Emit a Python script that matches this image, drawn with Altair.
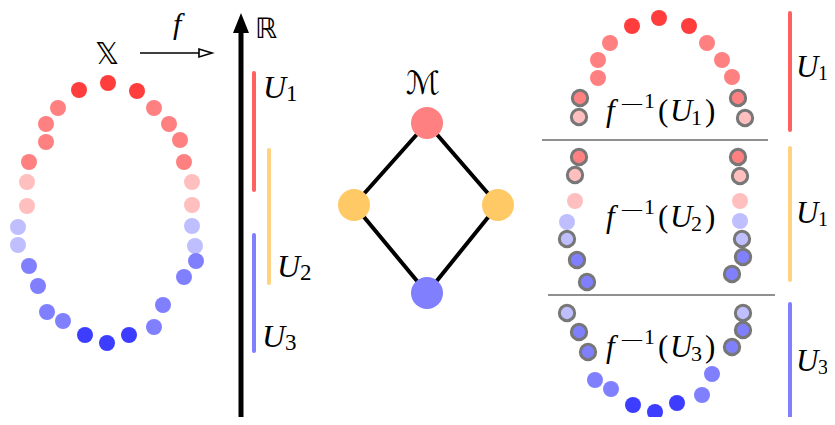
import altair as alt
import pandas as pd

# ---------------- data (pixel coordinates) ----------------
levels = ["r3", "r2", "r1", "b1", "b2", "b3"]
level_colors = ["#ff3d3d", "#ff8080", "#ffbfbf", "#bfbfff", "#8080ff", "#3d3dff"]

# left ring X
left_x = [108, 79, 137, 58, 154, 46, 169, 46, 180, 29, 184, 27, 192, 27, 192,
          18, 192, 18, 195, 29, 196, 38, 184, 47, 163, 63, 154, 85, 107, 129]
left_y = [83, 90, 91, 108, 108, 124, 124, 142, 140, 162, 162, 182, 182, 206, 205,
          227, 226, 245, 246, 266, 261, 286, 277, 312, 305, 321, 327, 335, 343, 335]
left_lv = ["r3"] * 3 + ["r2"] * 8 + ["r1"] * 4 + ["b1"] * 4 + ["b2"] * 8 + ["b3"] * 3

# right pulled-back covering
right_x = [659, 632, 689, 610, 707, 598, 722, 598, 732, 580, 738, 579, 745,
           579, 738, 575, 740, 575, 740, 567, 740, 567, 742, 577, 743, 587, 732,
           567, 743, 579, 743, 588, 732, 595, 712, 611, 702, 633, 677, 655]
right_y = [18, 26, 26, 43, 43, 60, 60, 78, 77, 98, 98, 117, 118,
           157, 157, 175, 176, 201, 201, 222, 221, 239, 239, 260, 257, 282, 274,
           313, 313, 332, 330, 352, 347, 380, 374, 389, 395, 405, 403, 412]
right_lv = (["r3"] * 3 + ["r2"] * 8 + ["r1"] * 2 +
            ["r2"] * 2 + ["r1"] * 4 + ["b1"] * 4 + ["b2"] * 4 +
            ["b1"] * 2 + ["b2"] * 8 + ["b3"] * 3)
right_ring = ([False] * 9 + [True] * 4 +
              [True] * 4 + [False] * 4 + [True] * 6 +
              [True] * 6 + [False] * 7)

# Mapper graph M
node_x = [427, 354, 498, 427]
node_y = [123, 205, 205, 293]
node_c = ["#ff8080", "#ffc966", "#ffc966", "#8080ff"]
edge_from = [0, 0, 1, 2]
edge_to = [1, 2, 3, 3]

# intervals U1, U2, U3 on R and beside the right panel
bar_x = [254, 269, 254, 790, 790, 790]
bar_y1 = [73, 150, 235, 13, 148, 304]
bar_y2 = [190, 283, 351, 130, 280, 418]
bar_c = ["#ff6060", "#ffd27f", "#7f7fff", "#ff6060", "#ffd27f", "#7f7fff"]

# separators of the right panel
sep_x1 = [542, 548]
sep_x2 = [768, 775]
sep_y = [140, 295]

# ---------------- frames ----------------
pts_left = pd.DataFrame({"x": left_x, "y": left_y, "lv": left_lv})
pts_right = pd.DataFrame({"x": right_x, "y": right_y, "lv": right_lv, "ring": right_ring})
nodes = pd.DataFrame({"x": node_x, "y": node_y, "c": node_c})
edges = pd.DataFrame({
    "x": [node_x[i] for i in edge_from], "y": [node_y[i] for i in edge_from],
    "x2": [node_x[i] for i in edge_to], "y2": [node_y[i] for i in edge_to]})
bars = pd.DataFrame({"x": bar_x, "y": bar_y1, "y2": bar_y2, "c": bar_c})
seps = pd.DataFrame({"x": sep_x1, "x2": sep_x2, "y": sep_y})

xs = alt.Scale(domain=[8, 827], nice=False, zero=False)
ys = alt.Scale(domain=[417, 8], nice=False, zero=False)
X = lambda f="x": alt.X(f"{f}:Q", scale=xs, axis=None)
Y = lambda f="y": alt.Y(f"{f}:Q", scale=ys, axis=None)
cscale = alt.Scale(domain=levels, range=level_colors)

ring_l = alt.Chart(pts_left).mark_circle(size=256, opacity=1).encode(
    x=X(), y=Y(), color=alt.Color("lv:N", scale=cscale, legend=None))
ring_r_plain = alt.Chart(pts_right).transform_filter("!datum.ring").mark_circle(
    size=256, opacity=1).encode(x=X(), y=Y(), color=alt.Color("lv:N", scale=cscale, legend=None))
ring_r_ring = alt.Chart(pts_right).transform_filter("datum.ring").mark_point(
    shape="circle", size=235, filled=True, opacity=1, stroke="#777777",
    strokeWidth=3, strokeOpacity=1).encode(
    x=X(), y=Y(), fill=alt.Fill("lv:N", scale=cscale, legend=None))

edge_l = alt.Chart(edges).mark_rule(strokeWidth=4, color="black", strokeCap="round").encode(
    x=X(), y=Y(), x2="x2:Q", y2="y2:Q")
node_l = alt.Chart(nodes).mark_circle(size=1024, opacity=1).encode(
    x=X(), y=Y(), color=alt.Color("c:N", scale=None))

bar_l = alt.Chart(bars).mark_rule(strokeWidth=4, strokeCap="round").encode(
    x=X(), y=Y(), y2="y2:Q", color=alt.Color("c:N", scale=None))
sep_l = alt.Chart(seps).mark_rule(strokeWidth=1.2, color="#222222").encode(
    x=X(), x2="x2:Q", y=Y())

axis_df = pd.DataFrame({"x": [241], "y": [423], "y2": [31]})
axis_l = alt.Chart(axis_df).mark_rule(strokeWidth=5, color="black").encode(
    x=X(), y=Y(), y2="y2:Q")
head_df = pd.DataFrame({"x": [241], "y": [23]})
head_l = alt.Chart(head_df).mark_point(
    shape="M0,-1L0.8,1L-0.8,1Z", size=400, filled=True, color="black", opacity=1).encode(
    x=X(), y=Y())

farrow_df = pd.DataFrame({"x": [140], "x2": [199], "y": [53]})
farrow_l = alt.Chart(farrow_df).mark_rule(strokeWidth=1.6, color="black").encode(
    x=X(), x2="x2:Q", y=Y())
fhead_df = pd.DataFrame({"x": [205.5], "y": [53]})
fhead_l = alt.Chart(fhead_df).mark_point(
    shape="M1,0L-1,0.6L-1,-0.6Z", size=169, filled=True, fill="white",
    stroke="black", strokeWidth=1.6, opacity=1).encode(x=X(), y=Y())

# ---------------- text ----------------
ital_t, ital_x, ital_y, ital_s = [], [], [], []
up_t, up_x, up_y, up_s = [], [], [], []

def add(lst, t, x, y, s):
    lst[0].append(t); lst[1].append(x); lst[2].append(y); lst[3].append(s)

IT = (ital_t, ital_x, ital_y, ital_s)
UP = (up_t, up_x, up_y, up_s)

# f above the small arrow
add(IT, "f", 173, 34, 30)
# U labels beside R
for (ux, ub, d) in [(263, 98, "1"), (277, 277, "2"), (262, 347, "3")]:
    add(IT, "U", ux, ub, 32)
    add(UP, d, ux + 23, ub + 3, 23)
# U labels beside right bars (the reference crops their subscripts at the edge)
for (ub, d) in [(77, "1"), (223, "1"), (371, "3")]:
    add(IT, "U", 796, ub, 31)
    add(UP, d, 818, ub + 3, 20)
# f^{-1}(U_k)
for (b, d) in [(121, "1"), (227, "2"), (357, "3")]:
    add(IT, "f", 606, b, 31)
    add(UP, "\u2014", 622, b - 11, 20)
    add(UP, "1", 644, b - 13, 22)
    add(UP, "(", 658, b, 31)
    add(IT, "U", 670, b, 31)
    add(UP, d, 691, b + 4, 22)
    add(UP, ")", 705, b, 31)

ital_df = pd.DataFrame({"t": ital_t, "x": ital_x, "y": ital_y, "s": ital_s})
up_df = pd.DataFrame({"t": up_t, "x": up_x, "y": up_y, "s": up_s})
sym_df = pd.DataFrame({"t": ["\U0001D54F", "\u211D", "\u2133"],
                       "x": [95, 255, 406], "y": [64, 38, 94], "s": [30, 28, 32]})

def text_layer(df, font, style):
    return alt.Chart(df).mark_text(align="left", baseline="alphabetic", font=font,
                                   fontStyle=style, color="black").encode(
        x=X(), y=Y(), text="t:N", size=alt.Size("s:Q", scale=None))

it_l = text_layer(ital_df, "Liberation Serif", "italic")
up_l = text_layer(up_df, "Liberation Serif", "normal")
sym_l = text_layer(sym_df, "DejaVu Sans", "normal")

chart = alt.layer(
    edge_l, node_l, ring_l, ring_r_plain, ring_r_ring, bar_l, sep_l,
    axis_l, head_l, farrow_l, fhead_l, it_l, up_l, sym_l
).properties(
    width=819, height=409, padding=0, autosize=alt.AutoSizeParams(type="none")
).configure_view(stroke=None)

chart.save("out.html", embed_options={"renderer": "svg", "actions": False})
